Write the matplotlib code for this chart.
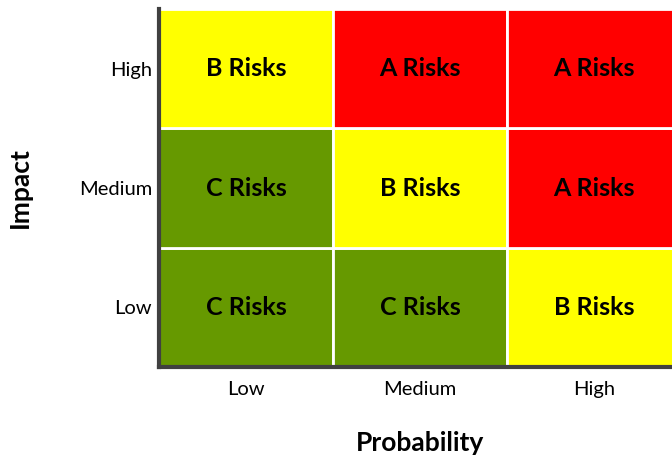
import matplotlib
matplotlib.use("Agg")
import matplotlib.pyplot as plt

prob_labels = ["Low", "Medium", "High"]
impact_labels = ["Low", "Medium", "High"]
# risk class per [impact row][probability column]
risk_grid = [
    ["C", "C", "B"],   # Low impact
    ["C", "B", "A"],   # Medium impact
    ["B", "A", "A"],   # High impact
]
risk_colors = {"A": "#FF0000", "B": "#FFFF00", "C": "#669900"}

plt.rcParams['font.family'] = ['Lato', 'DejaVu Sans']
fig = plt.figure(figsize=(6.72, 4.59), dpi=100)
ax = fig.add_axes([159/672, 1 - 367/459, 522/672, (367 - 9)/459])

for r, row in enumerate(risk_grid):
    for c, cls in enumerate(row):
        ax.bar(c + 0.5, 1, bottom=r, width=1, color=risk_colors[cls],
               edgecolor="white", linewidth=2, align="center", zorder=1)
        ax.text(c + 0.5, r + 0.5, f"{cls} Risks", ha="center", va="center",
                fontsize=18, fontweight="bold", color="black", zorder=3)

ax.set_xlim(0, 3)
ax.set_ylim(0, 3)
ax.set_xticks([0.5, 1.5, 2.5])
ax.set_xticklabels(prob_labels, fontsize=14.5)
ax.set_yticks([0.5, 1.5, 2.5])
ax.set_yticklabels(impact_labels, fontsize=14.5)
ax.tick_params(length=0, pad=5)
ax.tick_params(axis="x", pad=10)
for s in ["top", "right"]:
    ax.spines[s].set_visible(False)
for s in ["left", "bottom"]:
    ax.spines[s].set_color("#404040")
    ax.spines[s].set_linewidth(3)
    ax.spines[s].set_zorder(5)

ax.set_xlabel("Probability", fontsize=19, fontweight="bold", labelpad=24)
ax.set_ylabel("Impact", fontsize=19, fontweight="bold", labelpad=34)

fig.savefig("out.png", dpi=100)
